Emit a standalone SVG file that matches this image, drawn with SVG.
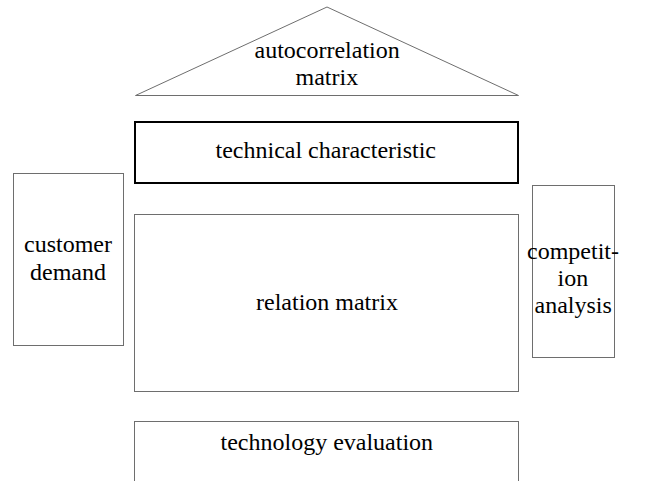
<svg xmlns="http://www.w3.org/2000/svg" width="647" height="481" viewBox="0 0 647 481">
<rect width="647" height="481" fill="#fff"/>
<g id="autocorrelation">
<polygon fill="#fff" stroke="#6e6e6e" stroke-width="1" points="327,7 135.5,95.5 518.5,95.5"/>
<text font-family="Liberation Serif" font-size="24" x="254.5" y="58">autocorrelation</text>
<text font-family="Liberation Serif" font-size="24" x="295.5" y="85">matrix</text>
</g>
<g id="technical">
<rect fill="#fff" stroke="#000" stroke-width="2" x="135" y="122" width="383" height="61"/>
<text font-family="Liberation Serif" font-size="24" x="215.5" y="158">technical characteristic</text>
</g>
<g id="customer">
<rect fill="#fff" stroke="#6e6e6e" stroke-width="1" x="13.5" y="173.5" width="110" height="172"/>
<text font-family="Liberation Serif" font-size="24" x="24" y="252">customer</text>
<text font-family="Liberation Serif" font-size="24" x="30" y="280">demand</text>
</g>
<g id="relation">
<rect fill="#fff" stroke="#6e6e6e" stroke-width="1" x="134.5" y="214.5" width="384" height="177"/>
<text font-family="Liberation Serif" font-size="24" x="256" y="310">relation matrix</text>
</g>
<g id="competition">
<rect fill="#fff" stroke="#6e6e6e" stroke-width="1" x="532.5" y="185.5" width="82" height="172"/>
<text font-family="Liberation Serif" font-size="24" x="527" y="259">competit-</text>
<text font-family="Liberation Serif" font-size="24" x="557.5" y="286">ion</text>
<text font-family="Liberation Serif" font-size="24" x="534.5" y="313">analysis</text>
</g>
<g id="technology">
<rect fill="#fff" stroke="#6e6e6e" stroke-width="1" x="134.5" y="421.5" width="384" height="70"/>
<text font-family="Liberation Serif" font-size="24" x="220.5" y="450">technology evaluation</text>
</g>
<g id="connectors"/>
</svg>
